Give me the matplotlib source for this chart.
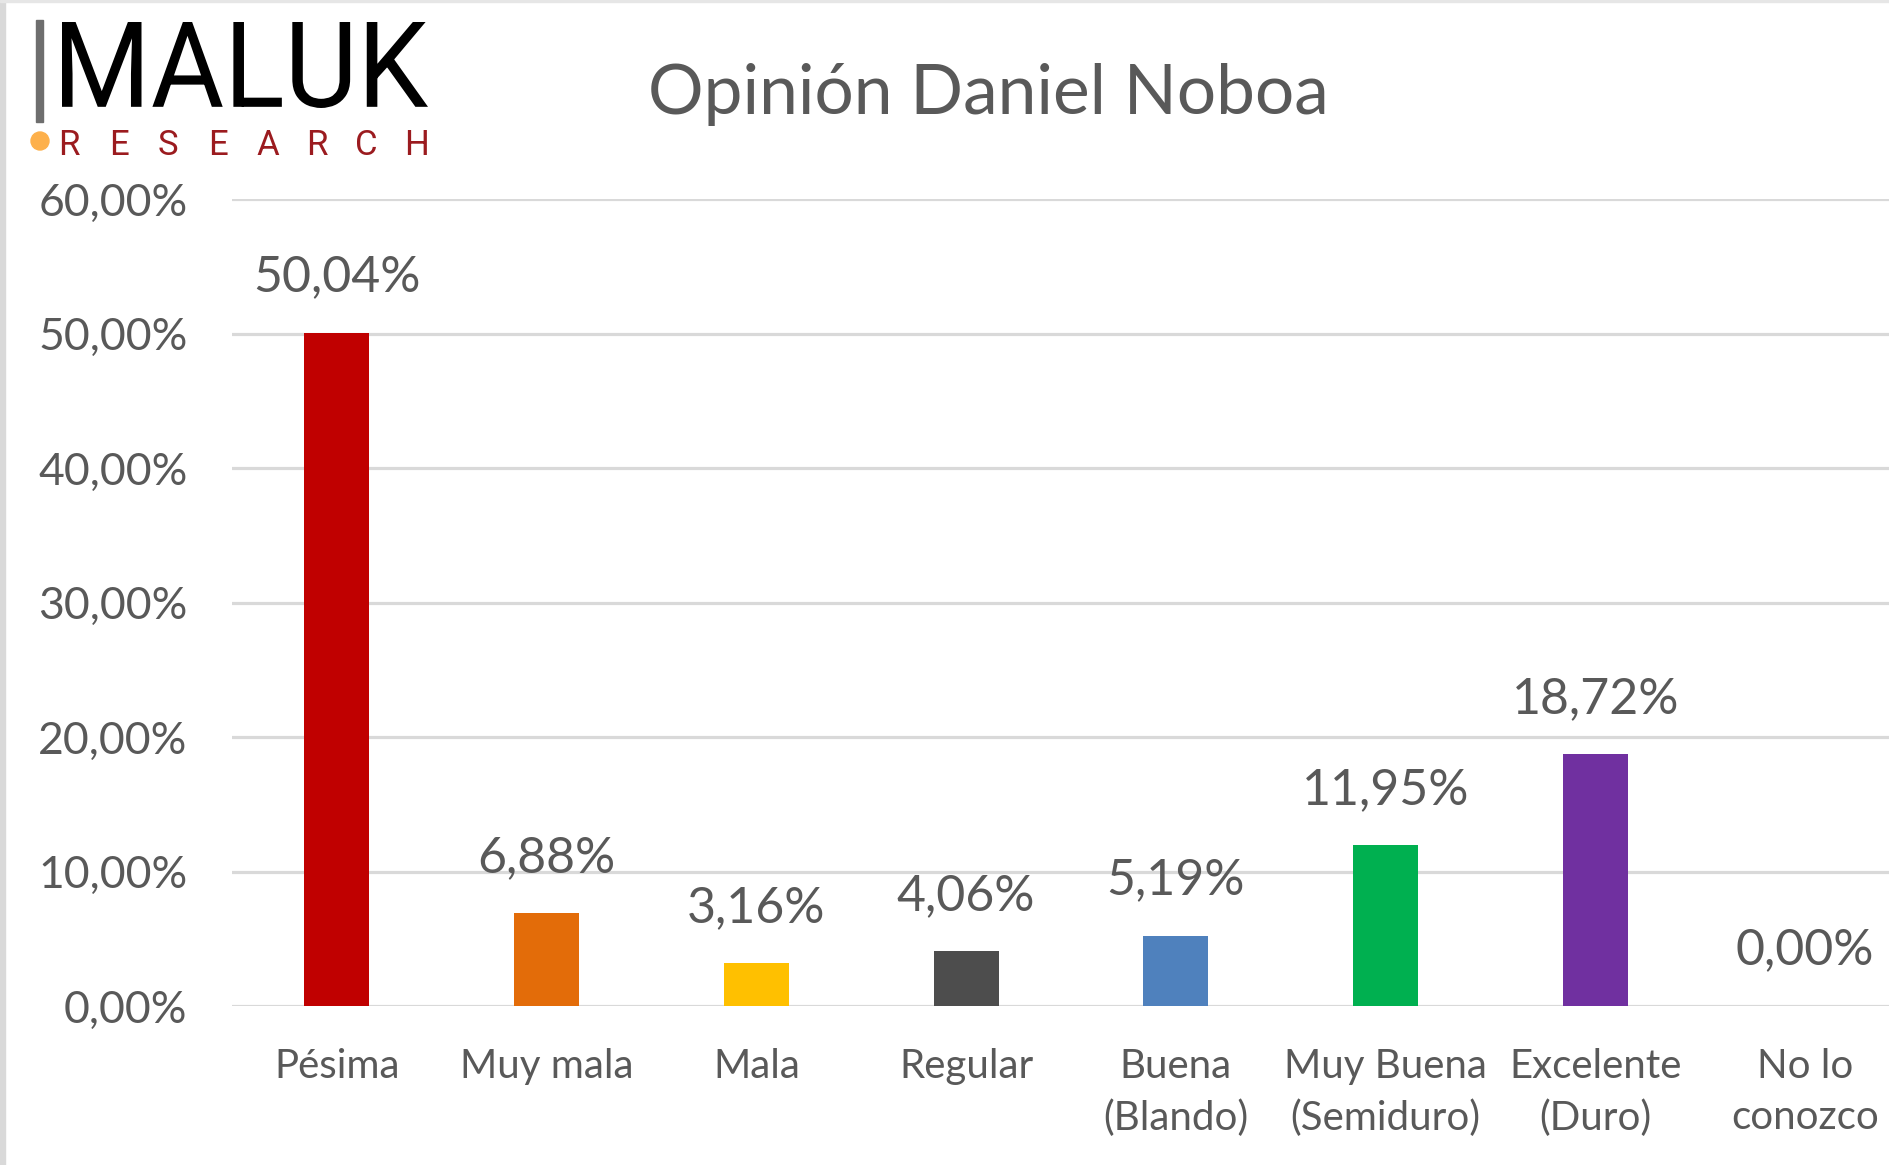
import numpy as np
import matplotlib
matplotlib.use("Agg")
import matplotlib.pyplot as plt
import matplotlib.ticker as mticker
from matplotlib.patches import Circle, Rectangle, PathPatch
from matplotlib.textpath import TextPath
from matplotlib.font_manager import FontProperties
from matplotlib.transforms import Affine2D, IdentityTransform

categories = ["Pésima", "Muy mala", "Mala", "Regular", "Buena\n(Blando)",
              "Muy Buena\n(Semiduro)", "Excelente\n(Duro)", "No lo\nconozco"]
values = [50.04, 6.88, 3.16, 4.06, 5.19, 11.95, 18.72, 0.00]
colors = ["#C00000", "#E36C09", "#FFC000", "#4D4D4D", "#4F81BD",
          "#00B050", "#7030A0", "#7F7F7F"]
yticks = [0, 10, 20, 30, 40, 50, 60]

text_gray = "#595959"
plt.rcParams['font.family'] = ['Lato', 'DejaVu Sans']
W, H = 1889, 1165

def pct(v):
    return f"{v:.2f}".replace(".", ",") + "%"

fig = plt.figure(figsize=(W / 100, H / 100), dpi=100)
ax = fig.add_axes([232 / W, 1 - 1006 / H, 1 - 232 / W, (1006 - 199) / H])

x = np.arange(len(categories))
ax.bar(x, values, width=0.31, color=colors, zorder=3)
for xi, v in zip(x, values):
    ax.annotate(pct(v), (xi, v), xytext=(0, 40), textcoords="offset points",
                ha="center", va="center", fontsize=36, color=text_gray)

ax.set_ylim(0, 60)
ax.set_xlim(-0.5, 7.40)
ax.set_yticks(yticks)
ax.yaxis.set_major_formatter(mticker.FuncFormatter(lambda v, p: pct(v)))
ax.set_xticks(x)
ax.set_xticklabels(categories, linespacing=1.48)
ax.tick_params(axis="both", length=0, labelcolor=text_gray)
ax.tick_params(axis="y", pad=32, labelsize=32)
ax.tick_params(axis="x", pad=30, labelsize=29)
ax.grid(axis="y", color="#D9D9D9", linewidth=2.3, zorder=0)
for s in ax.spines.values():
    s.set_visible(False)

# title
fig.text(988 / W, 1 - 94 / H, "Opinión Daniel Noboa", ha="center", va="center",
         fontsize=50, color=text_gray)

# logo (pixel coordinates, origin bottom-left)
px = IdentityTransform()
fig.patches.append(Rectangle((36, H - 122), 7, 102, transform=px, color="#6E6E6E"))
tp = TextPath((0, 0), "MALUK", size=100, prop=FontProperties(family="Roboto"))
ext = tp.get_extents()
sx = (428 - 62) / ext.width
sy = (108 - 22) / ext.height
tr = Affine2D().translate(-ext.x0, -ext.y0).scale(sx, sy).translate(62, H - 108)
fig.patches.append(PathPatch(tr.transform_path(tp), transform=px, color="black", lw=0))
for i, ch in enumerate("RESEARCH"):
    fig.text((69 + i * 49.6) / W, 1 - 155 / H, ch, ha="center", va="baseline",
             fontsize=25, color="#9B1B1F", family=["Roboto"])
fig.patches.append(Circle((40, H - 141), 9, transform=px, color="#FDB04B"))

# frame pieces
fig.patches.append(Rectangle((0, 0), 5, H, transform=px, color="#D9D9D9"))
fig.patches.append(Rectangle((0, H - 2), W, 2, transform=px, color="#E6E6E6"))

fig.savefig("out.png", dpi=100)
